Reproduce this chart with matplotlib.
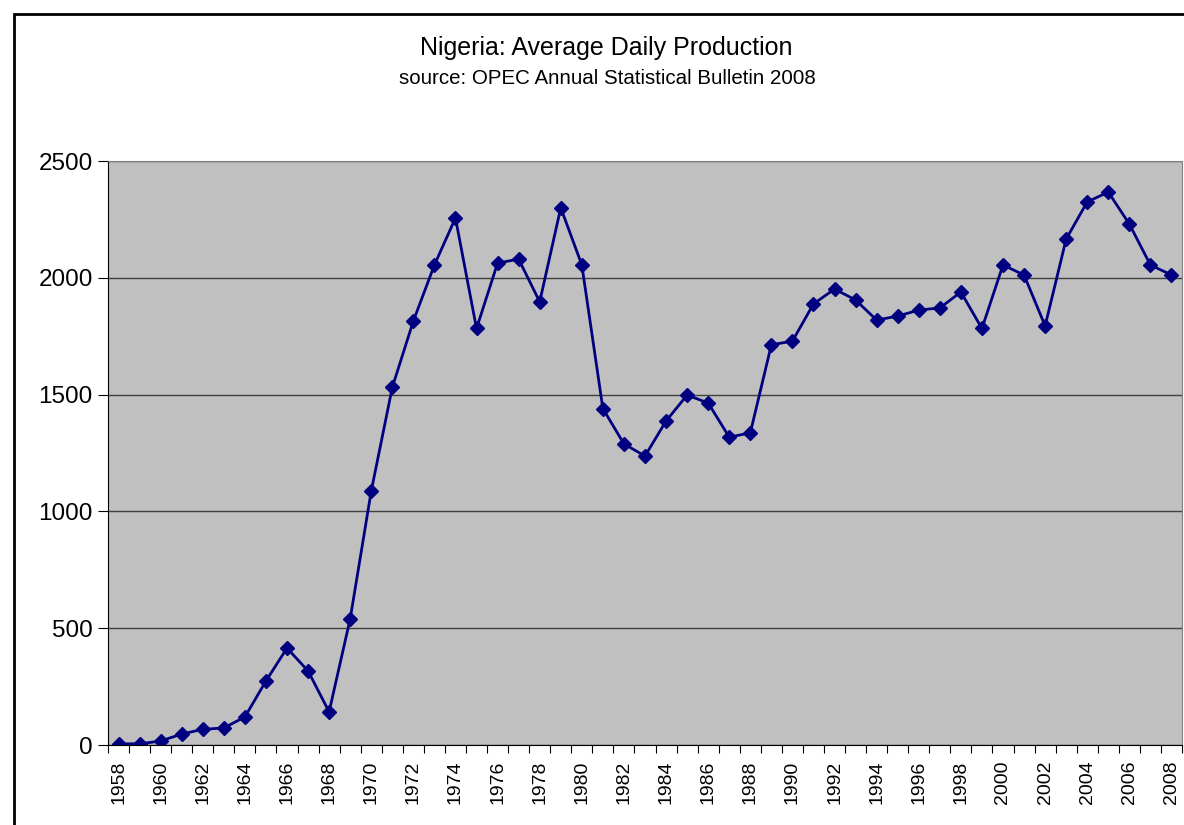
import matplotlib.pyplot as plt
from matplotlib.patches import Rectangle

plt.rcParams['font.family'] = ['Liberation Sans', 'DejaVu Sans']

years = list(range(1958, 2009))
production = [5, 5, 17, 47, 67, 73, 120, 274, 415, 317, 142, 540, 1087, 1531, 1815,
              2055, 2256, 1783, 2063, 2080, 1897, 2300, 2055, 1440, 1289, 1237, 1387,
              1498, 1464, 1318, 1336, 1713, 1729, 1888, 1952, 1905, 1819, 1836, 1862,
              1871, 1939, 1783, 2055, 2012, 1794, 2166, 2325, 2367, 2230, 2055, 2012]
y_ticks = [0, 500, 1000, 1500, 2000, 2500]

fig = plt.figure(figsize=(11.84, 8.25), dpi=100)
fig.patches.append(Rectangle((14 / 1184, -0.1), 1.2, 1.1 - 14 / 825,
                             transform=fig.transFigure, fill=False,
                             edgecolor='black', linewidth=2))

ax = fig.add_axes([108 / 1184, 80 / 825, 1074 / 1184, 584 / 825])
ax.set_facecolor('#C0C0C0')

x = list(range(len(years)))
ax.plot(x, production, color='#000080', linewidth=2, marker='D',
        markersize=7, markerfacecolor='#000080', markeredgecolor='#000080')

ax.set_xlim(-0.5, len(years) - 0.5)
ax.set_ylim(0, 2500)
ax.set_yticks(y_ticks)
ax.set_yticklabels([str(v) for v in y_ticks], fontsize=17.5)
ax.yaxis.grid(True, color='#404040', linewidth=1)
ax.set_axisbelow(True)

# category boundaries get the tick marks, every second year gets a label
ax.set_xticks([i - 0.5 for i in range(len(years) + 1)])
ax.set_xticklabels([])
ax.set_xticks(x[::2], minor=True)
ax.set_xticklabels([str(y) for y in years[::2]], minor=True, rotation=90, fontsize=14)
ax.tick_params(axis='x', which='minor', length=0, pad=11)
ax.tick_params(axis='x', which='major', length=6, direction='out', color='black')
ax.tick_params(axis='y', length=7, direction='out', pad=4)

ax.spines['left'].set_color('black')
ax.spines['bottom'].set_color('black')
ax.spines['top'].set_color('#808080')
ax.spines['right'].set_color('#808080')

fig.text(606 / 1184, 1 - 48 / 825, 'Nigeria: Average Daily Production',
         ha='center', va='center', fontsize=18)
fig.text(607 / 1184, 1 - 79 / 825, 'source: OPEC Annual Statistical Bulletin 2008',
         ha='center', va='center', fontsize=14.8)

fig.savefig('out.png', dpi=100)
